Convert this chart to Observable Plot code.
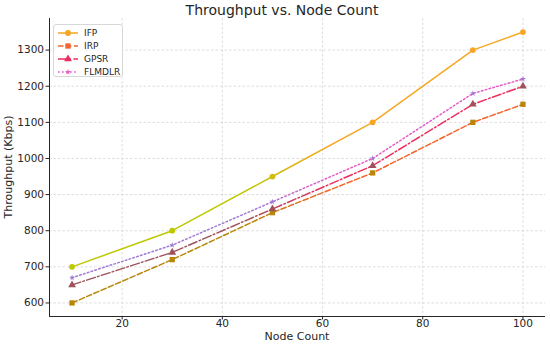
<!DOCTYPE html>
<html><head><meta charset="utf-8">
<script src="https://cdn.jsdelivr.net/npm/d3@7"></script>
<script src="https://cdn.jsdelivr.net/npm/@observablehq/plot@0.6"></script>
<style>
body{margin:0;background:#fff;font-family:"DejaVu Sans",sans-serif;color:#262626;}
#wrap{position:relative;width:550px;height:346px;overflow:hidden;}
#title{position:absolute;left:82px;width:400px;top:0px;text-align:center;font-size:14px;line-height:20px;color:#262626;}
#xlabel{position:absolute;left:197px;width:200px;top:330px;text-align:center;font-size:11px;line-height:14px;}
#ylabel{position:absolute;left:-91px;top:160px;width:200px;text-align:center;font-size:11px;line-height:14px;transform:rotate(-90deg);}
#legend{position:absolute;left:53px;top:24px;width:68px;height:51px;border:1px solid #d8d8d8;border-radius:3px;background:rgba(255,255,255,0.85);}
#chart{position:absolute;left:0;top:0;}
</style></head>
<body><div id="wrap"><div id="chart"></div><div id="title">Throughput vs. Node Count</div><div id="xlabel">Node Count</div><div id="ylabel">Throughput (Kbps)</div><div id="legend"></div></div>
<script>
const nodeCounts = [10, 30, 50, 70, 90, 100];
const ifp    = [700, 800, 950, 1100, 1300, 1350];
const irp    = [600, 720, 850, 960, 1100, 1150];
const gpsr   = [650, 740, 860, 980, 1150, 1200];
const flmdlr = [670, 760, 880, 1000, 1180, 1220];
const seriesNames = ["IFP", "IRP", "GPSR", "FLMDLR"];
const xTicks = [20, 40, 60, 80, 100];
const yTicks = [600, 700, 800, 900, 1000, 1100, 1200, 1300];

const values = [ifp, irp, gpsr, flmdlr];
const styles = [
  {left:"#bcc800", right:"#f7a623", dash:null, symbol:"circle", r:2.9},
  {left:"#b8860b", right:"#f4632a", dash:"5.5,2.4", symbol:"square", r:3.0},
  {left:"#a0525a", right:"#ee2d5f", dash:"9,2.4,1.6,2.4", symbol:"triangle", r:2.9},
  {left:"#a07ad8", right:"#e55ac8", dash:"1.6,2.4", symbol:"star", r:1.9}
];
const data = seriesNames.flatMap((s, i) => nodeCounts.map((x, j) => ({series:s, x, y:values[i][j]})));
const xDomain = [5.5, 104.5];
const yDomain = [562.5, 1387.5];

const marks = [
  Plot.ruleX(xTicks, {stroke:"#d4d4d4", strokeWidth:0.8, strokeDasharray:"2.5,2"}),
  Plot.ruleY(yTicks, {stroke:"#d4d4d4", strokeWidth:0.8, strokeDasharray:"2.5,2"}),
  Plot.ruleX([xDomain[0]], {stroke:"#262626", strokeWidth:1}),
  Plot.ruleY([yDomain[0]], {stroke:"#262626", strokeWidth:1}),
  Plot.axisX({ticks:xTicks, tickSize:3.5, tickPadding:0, label:null, fontSize:10.5, tickFormat:d=>String(d)}),
  Plot.axisY({ticks:yTicks, tickSize:3.5, tickPadding:2, label:null, fontSize:10.5, tickFormat:d=>String(d)})
];
seriesNames.forEach((s, i) => {
  const st = styles[i];
  const d = data.filter(e => e.series === s);
  marks.push(Plot.line(d, {x:"x", y:"y", stroke:`url(#grad${i})`, strokeWidth:1.5, strokeDasharray:st.dash}));
  marks.push(Plot.dot(d, {x:"x", y:"y", symbol:st.symbol, r:st.r, fill:`url(#grad${i})`, stroke:"none"}));
});

const plot = Plot.plot({
  width:550, height:346,
  marginLeft:49, marginRight:5, marginTop:18, marginBottom:30,
  x:{domain:xDomain}, y:{domain:yDomain},
  style:{fontFamily:"DejaVu Sans, sans-serif", fontSize:"10.5px", color:"#262626", background:"transparent"},
  marks
});
document.getElementById("chart").appendChild(plot);

// gradients (colour shift along x)
const xs = plot.scale("x");
const svg = d3.select(plot);
const defs = svg.insert("defs", ":first-child");
styles.forEach((st, i) => {
  const g = defs.append("linearGradient").attr("id", `grad${i}`)
    .attr("gradientUnits", "userSpaceOnUse")
    .attr("x1", xs.apply(44)).attr("x2", xs.apply(62)).attr("y1", 0).attr("y2", 0);
  g.append("stop").attr("offset", "0").attr("stop-color", st.left);
  g.append("stop").attr("offset", "1").attr("stop-color", st.right);
});

// legend
const leg = d3.select("#legend");
seriesNames.forEach((s, i) => {
  const st = styles[i];
  const row = leg.append("div").style("position","absolute").style("left","3px").style("top", (2 + i*13) + "px")
    .style("height","12px").style("display","flex").style("align-items","center");
  const sv = row.append("svg").attr("width", 22).attr("height", 12);
  sv.append("line").attr("x1", 1).attr("x2", 21).attr("y1", 6).attr("y2", 6)
    .attr("stroke", st.right).attr("stroke-width", 1.5).attr("stroke-dasharray", st.dash);
  const sym = {circle:d3.symbolCircle, square:d3.symbolSquare, triangle:d3.symbolTriangle, star:d3.symbolStar}[st.symbol];
  sv.append("path").attr("transform","translate(11,6)").attr("d", d3.symbol(sym, Math.PI*st.r*st.r)())
    .attr("fill", st.right);
  row.append("span").text(s).style("font-size","9px").style("margin-left","5px").style("color","#262626");
});
</script>
</body></html>
